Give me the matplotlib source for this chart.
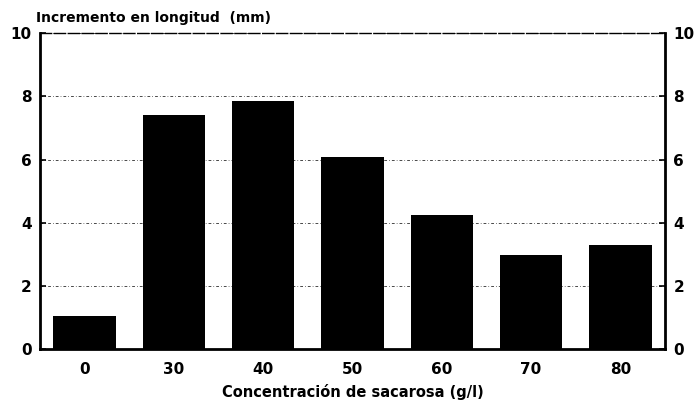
import matplotlib
matplotlib.use('Agg')
import matplotlib.pyplot as plt
import numpy as np

# data
CONC = ['0', '30', '40', '50', '60', '70', '80']
INCR = [1.05, 7.4, 7.85, 6.08, 4.26, 2.97, 3.3]
YTICKS = [0, 2, 4, 6, 8, 10]

plt.rcParams['font.family'] = 'DejaVu Sans'
plt.rcParams['font.weight'] = 'bold'

fig = plt.figure(figsize=(6.96, 4.05), dpi=100)
ax = fig.add_axes([0.0575, 0.138, 0.898, 0.78])
xs = np.arange(len(CONC))
ax.bar(xs, INCR, width=0.7, color='black', zorder=3)
ax.set_xlim(-0.5, len(CONC) - 0.5)
ax.set_ylim(0, 10)
ax.set_xticks(xs)
ax.set_xticklabels(CONC, fontsize=11, fontweight='bold')
ax.tick_params(axis='x', length=0, pad=9)
ax.set_yticks(YTICKS)
ax.set_yticklabels([str(v) for v in YTICKS], fontsize=11, fontweight='bold')
ax.tick_params(axis='y', direction='in', length=4, width=1.2,
               left=True, right=True, labelleft=True, labelright=True, pad=6)
ax.yaxis.grid(True, linestyle=(0, (4, 3, 1, 3)), color='black', linewidth=0.5, zorder=0)
for side in ['left', 'right', 'bottom']:
    ax.spines[side].set_linewidth(2)
ax.spines['top'].set_linewidth(1)
ax.spines['top'].set_linestyle((0, (8, 2)))
ax.set_xlabel('Concentración de sacarosa (g/l)', fontsize=10.5, fontweight='bold', labelpad=5)
fig.text(0.052, 0.955, 'Incremento en longitud  (mm)', fontsize=10, fontweight='bold',
         ha='left', va='center')
fig.savefig('out.png', dpi=100, facecolor='white')
